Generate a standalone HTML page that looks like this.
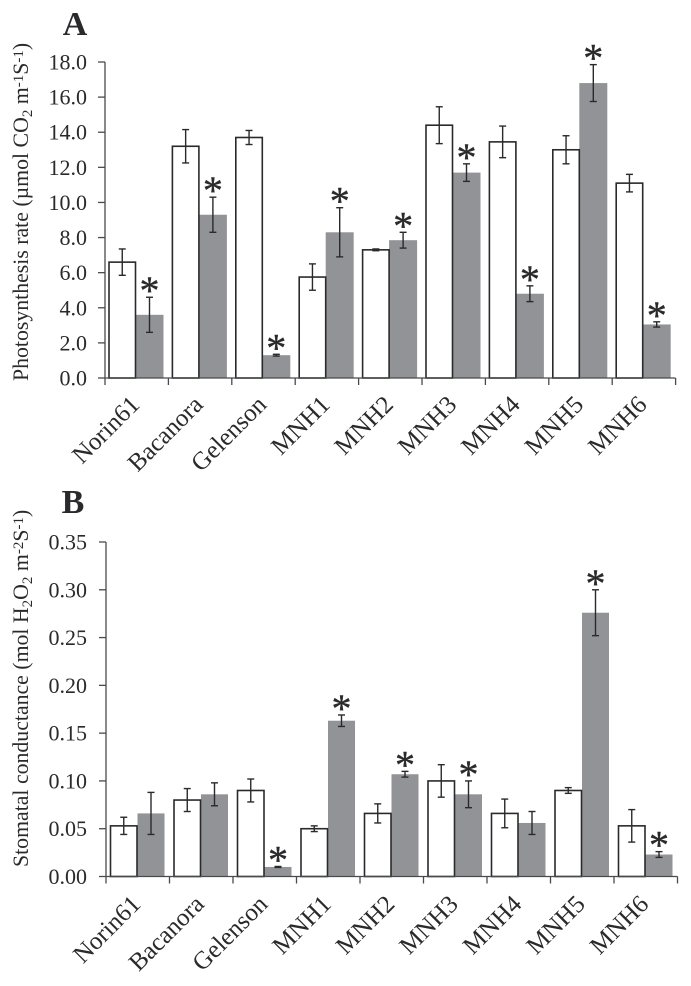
<!DOCTYPE html>
<html lang="en">
<head>
<meta charset="utf-8">
<title>Photosynthesis rate and stomatal conductance</title>
<style>
html,body{margin:0;padding:0;background:#fff;}
svg{display:block;font-family:"Liberation Serif",serif;fill:#2a2a2c;}
</style>
</head>
<body>
<svg id="chart" xmlns="http://www.w3.org/2000/svg" width="691" height="986" viewBox="0 0 691 986"></svg>
<script>
const categories = ["Norin61","Bacanora","Gelenson","MNH1","MNH2","MNH3","MNH4","MNH5","MNH6"];

const ticksA = ["0.0","2.0","4.0","6.0","8.0","10.0","12.0","14.0","16.0","18.0"];
const controlA = [6.6,13.2,13.7,5.75,7.3,14.4,13.45,13.0,11.1];
const controlErrA = [0.75,0.95,0.4,0.75,0.05,1.05,0.9,0.8,0.5];
const treatedA = [3.6,9.3,1.3,8.3,7.85,11.7,4.8,16.8,3.05];
const treatedErrA = [1.0,1.0,0.05,1.4,0.45,0.5,0.45,1.05,0.15];
const starsA = [1,1,1,1,1,1,1,1,1];

const ticksB = ["0.00","0.05","0.10","0.15","0.20","0.25","0.30","0.35"];
const controlB = [0.053,0.08,0.09,0.05,0.066,0.1,0.066,0.09,0.053];
const controlErrB = [0.009,0.012,0.012,0.003,0.01,0.017,0.015,0.003,0.017];
const treatedB = [0.066,0.086,0.01,0.163,0.107,0.086,0.056,0.276,0.023];
const treatedErrB = [0.022,0.012,0.0005,0.006,0.003,0.014,0.012,0.024,0.003];
const starsB = [0,0,1,1,1,1,0,1,1];

const svg = document.getElementById('chart');
const NS = 'http://www.w3.org/2000/svg';
const INK = '#2a2a2c';
const GRAY = '#929396';

function make(tag, attrs, parent) {
  const el = document.createElementNS(NS, tag);
  for (const k in attrs) el.setAttribute(k, attrs[k]);
  parent.appendChild(el);
  return el;
}

function drawPanel(p) {
  const group = make('g', {}, svg);
  
  

  const yMax = Number(p.ticks[p.ticks.length - 1]);
  const yScale = v => p.y0 - (v / yMax) * (p.y0 - p.yTop);
  const xScale = i => p.x0 + i * p.step;

  const letter = make('text', {x: p.letterX, y: p.letterY, 'font-size': 34, 'font-weight': 'bold', 'text-anchor': 'middle'}, group);
  letter.textContent = p.letter;
  
  

  // bars
  p.control.forEach((v, i) => {
    const gx = xScale(i);
    const t = p.treated[i];
    const grayBar = make('rect', {x: gx + p.gx, y: yScale(t), width: p.gw, height: p.y0 - yScale(t), fill: GRAY}, group);
    
    
    const whiteBar = make('rect', {x: gx + p.wx, y: yScale(v), width: p.ww, height: p.y0 - yScale(v), fill: '#fff', stroke: INK, 'stroke-width': 1.6}, group);
    
    
  });

  // error bars and stars
  const errorBar = (cx, v, e, name) => {
    const g = make('g', {stroke: INK, 'stroke-width': 1.4, fill: 'none'}, group);
    
    
    const top = yScale(v + e), bot = yScale(v - e);
    make('line', {x1: cx, x2: cx, y1: top, y2: bot}, g);
    make('line', {x1: cx - 3.5, x2: cx + 3.5, y1: top, y2: top}, g);
    make('line', {x1: cx - 3.5, x2: cx + 3.5, y1: bot, y2: bot}, g);
  };
  p.control.forEach((v, i) => {
    const gx = xScale(i);
    errorBar(gx + p.wx + p.ww / 2, v, p.controlErr[i], 'control-error-' + categories[i].toLowerCase());
    const cx = gx + p.gx + p.gw / 2;
    errorBar(cx, p.treated[i], p.treatedErr[i], 'treated-error-' + categories[i].toLowerCase());
    if (p.stars[i]) {
      const star = make('text', {x: cx, y: yScale(p.treated[i] + p.treatedErr[i]) + 7, 'font-size': 40, 'text-anchor': 'middle', stroke: '#2a2a2c', 'stroke-width': 0.4}, group);
      star.textContent = '*';
      
      
    }
  });

  // axes
  const axis = make('g', {stroke: '#4a4a4c', 'stroke-width': 1.3, fill: 'none'}, group);
  
  
  make('line', {x1: p.x0, x2: p.x0, y1: p.yTop, y2: p.y0}, axis);
  make('line', {x1: p.x0, x2: xScale(categories.length), y1: p.y0, y2: p.y0}, axis);
  categories.forEach((c, i) => {
    make('line', {x1: xScale(i), x2: xScale(i), y1: p.y0, y2: p.y0 + 7}, axis);
  });
  make('line', {x1: xScale(categories.length), x2: xScale(categories.length), y1: p.y0, y2: p.y0 + 7}, axis);

  // y ticks
  p.ticks.forEach(t => {
    const y = yScale(Number(t));
    make('line', {x1: p.x0 - 7, x2: p.x0, y1: y, y2: y}, axis);
    const lab = make('text', {x: 87, y: y + 7.5, 'font-size': 22, 'text-anchor': 'end'}, group);
    lab.textContent = t;
    
    
  });

  // category labels
  categories.forEach((c, i) => {
    const lx = xScale(i) + p.labDx, ly = p.y0 + p.labDy;
    const lab = make('text', {x: lx, y: ly, 'font-size': 25, 'text-anchor': 'end', transform: 'rotate(-45 ' + lx + ' ' + ly + ')'}, group);
    lab.textContent = c;
    
    
  });

  // y title
  const title = make('text', {x: 0, y: 0, 'font-size': p.titleSize, transform: 'translate(' + p.titleX + ' ' + p.titleY + ') rotate(-90)'}, group);
  
  
  p.title.forEach(part => {
    const span = make('tspan', {}, title);
    span.textContent = part[0];
    if (part[1]) {
      span.setAttribute('dy', part[1]);
      span.setAttribute('font-size', 15);
    } else {
      span.setAttribute('dy', part[2] || 0);
    }
  });
}

drawPanel({
  id: 'photosynthesis', letter: 'A', letterX: 75, letterY: 35,
  ticks: ticksA, control: controlA, controlErr: controlErrA,
  treated: treatedA, treatedErr: treatedErrA, stars: starsA,
  x0: 105, y0: 378, yTop: 62, step: 63.4,
  wx: 4, ww: 26.5, gx: 30.5, gw: 28,
  labDx: 36, labDy: 28,
  titleX: 28, titleY: 381, titleSize: 21.8,
  title: [["Photosynthesis rate (µmol CO"],["2",4],[" m",0,-4],["-1",-5],["S",0,5],["-1",-5],[")",0,5]]
});

drawPanel({
  id: 'conductance', letter: 'B', letterX: 73, letterY: 513,
  ticks: ticksB, control: controlB, controlErr: controlErrB,
  treated: treatedB, treatedErr: treatedErrB, stars: starsB,
  x0: 106, y0: 876.5, yTop: 542, step: 63.5,
  wx: 4.5, ww: 26.5, gx: 31.5, gw: 27,
  labDx: 36, labDy: 29,
  titleX: 28, titleY: 867, titleSize: 21.8,
  title: [["Stomatal conductance (mol H"],["2",4],["O",0,-4],["2",4],[" m",0,-4],["-2",-5],["S",0,5],["-1",-5],[")",0,5]]
});
</script>
</body>
</html>
